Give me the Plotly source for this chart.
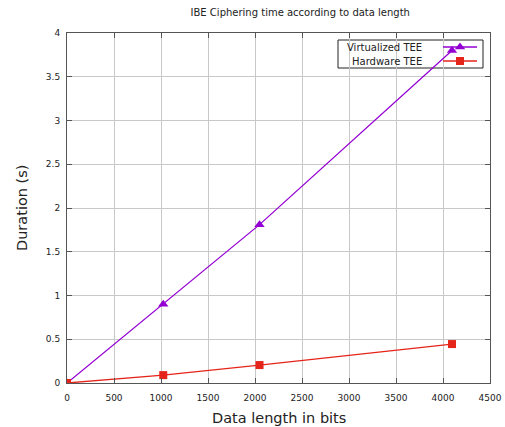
import plotly.graph_objects as go

data_length = [0, 1024, 2048, 4096]
virtualized = [0.0, 0.90, 1.81, 3.80]
hardware = [0.0, 0.09, 0.205, 0.445]
series_names = ["Virtualized TEE", "Hardware TEE"]

purple = "#9400d3"
red = "#e5241a"
font = "DejaVu Sans, sans-serif"

W, H = 505, 427
L, R, T, B = 67, 490, 33, 383

fig = go.Figure()
fig.add_trace(go.Scatter(x=data_length, y=virtualized, mode="lines+markers",
                         line=dict(color=purple, width=1.3),
                         marker=dict(symbol="triangle-up", size=9, color=purple),
                         showlegend=False))
fig.add_trace(go.Scatter(x=data_length, y=hardware, mode="lines+markers",
                         line=dict(color=red, width=1.3),
                         marker=dict(symbol="square", size=8, color=red),
                         showlegend=False))

# custom gnuplot-style legend (samples on an invisible overlaid axis)
fx = lambda px: (px - L) / (R - L)
fy = lambda py: (B - py) / (B - T)
rows = [(47, purple, "triangle-up", 9), (61, red, "square", 8)]
fig.add_shape(type="rect", xref="x2", yref="y2", x0=fx(338), x1=fx(483),
              y0=fy(68), y1=fy(40), line=dict(color="#222", width=1),
              fillcolor="white", layer="below")
for (py, col, sym, sz), name in zip(rows, series_names):
    fig.add_trace(go.Scatter(x=[fx(443), fx(477)], y=[fy(py)] * 2,
                             mode="lines", xaxis="x2", yaxis="y2",
                             line=dict(color=col, width=1.3),
                             showlegend=False, hoverinfo="skip"))
    fig.add_trace(go.Scatter(x=[fx(460)], y=[fy(py)],
                             mode="markers", xaxis="x2", yaxis="y2",
                             marker=dict(symbol=sym, size=sz, color=col),
                             showlegend=False, hoverinfo="skip"))
    fig.add_annotation(x=fx(424), y=fy(py), xref="x2", yref="y2", text=name,
                       showarrow=False, xanchor="right", yanchor="middle",
                       font=dict(family=font, size=10, color="#222"))

# axis titles
fig.add_annotation(x=0.5, y=0, xref="paper", yref="paper", yshift=-(418 - B),
                   text="Data length in bits", showarrow=False,
                   xanchor="center", yanchor="middle",
                   font=dict(family=font, size=14.5, color="#222"))
fig.add_annotation(x=0, y=0.5, xref="paper", yref="paper", xshift=-(L - 22),
                   text="Duration (s)", showarrow=False, textangle=-90,
                   xanchor="center", yanchor="middle",
                   font=dict(family=font, size=14.5, color="#222"))

axis_common = dict(showgrid=True, gridcolor="#c8c8c8", gridwidth=1,
                   showline=True, linecolor="#555", linewidth=1, mirror="ticks",
                   ticks="inside", ticklen=5, tickcolor="#555", zeroline=False,
                   automargin=False,
                   tickfont=dict(family=font, size=9, color="#222"))
fig.update_layout(
    width=W, height=H,
    margin=dict(l=L, r=W - R, t=T, b=H - B, autoexpand=False),
    paper_bgcolor="white", plot_bgcolor="white",
    title=dict(text="IBE Ciphering time according to data length",
               x=(L + R) / 2 / W, xanchor="center", xref="paper",
               y=1 - 12 / H, yanchor="middle",
               font=dict(family=font, size=10, color="#222")),
    xaxis=dict(range=[0, 4500], dtick=500, tick0=0, ticklabelstandoff=6,
               ticklabeloverflow="allow", **axis_common),
    yaxis=dict(range=[0, 4], dtick=0.5, tick0=0, ticklabelstandoff=4,
               **axis_common),
    xaxis2=dict(overlaying="x", range=[0, 1], visible=False),
    yaxis2=dict(overlaying="y", range=[0, 1], visible=False),
)
fig.write_html("out.html", config={"displayModeBar": False},
               post_script="document.body.style.margin='0';document.body.style.overflow='hidden';")
